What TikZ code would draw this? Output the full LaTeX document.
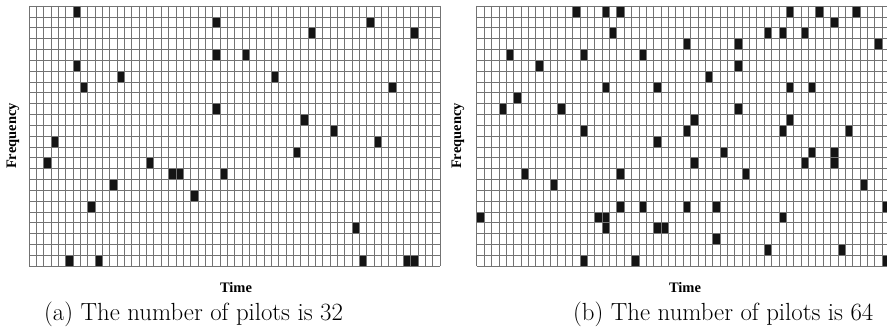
\documentclass[tikz,border=0pt]{standalone}
\usepackage{fontspec}
\newfontfamily\labfont{Liberation Serif}
\begin{document}
\begin{tikzpicture}[x=1pt,y=-1pt,
  gridline/.style={draw=black!55,line width=0.6pt},
  pilot/.style={fill=black!92},
  axislabel/.style={font=\labfont\bfseries\fontsize{14.5}{16}\selectfont,inner sep=0pt},
  captext/.style={font=\fontsize{24.8}{27}\selectfont,inner sep=0pt,anchor=base west}]
\useasboundingbox[fill=white] (0,0) rectangle (887,331);
% ---------- left grid (32 pilots) ----------
\begin{scope}[shift={(29,6)}]
  \foreach \c/\r in {6/0,25/1,46/1,38/2,52/2,25/4,29/4,6/5,12/6,33/6,7/7,49/7,25/9,37/10,41/11,3/12,47/12,36/13,2/14,16/14,19/15,20/15,26/15,11/16,22/17,8/18,44/20,5/23,9/23,45/23,51/23,52/23}
    \fill[pilot] (\c*7.34,\r*10.833) rectangle ++(7.34,10.833);
  \foreach \i in {0,...,56} \draw[gridline] (\i*7.34,0) -- (\i*7.34,260);
  \foreach \j in {0,...,24} \draw[gridline] (0,\j*10.833) -- (411.04,\j*10.833);
\end{scope}
% ---------- right grid (64 pilots) ----------
\begin{scope}[shift={(476.7,6)}]
  \foreach \c/\r in {13/0,17/0,19/0,42/0,46/0,51/0,48/1,18/2,39/2,41/2,44/2,28/3,35/3,54/3,4/4,14/4,22/4,8/5,35/5,31/6,17/7,24/7,42/7,45/7,5/8,3/9,11/9,35/9,29/10,42/10,14/11,28/11,41/11,50/11,24/12,33/13,45/13,48/13,29/14,44/14,48/14,6/15,19/15,36/15,10/16,52/16,19/18,22/18,28/18,32/18,55/18,0/19,16/19,17/19,41/19,17/20,24/20,25/20,32/21,39/22,49/22,14/23,21/23,55/23}
    \fill[pilot] (\c*7.37,\r*10.833) rectangle ++(7.37,10.833);
  \foreach \i in {0,...,56} \draw[gridline] (\i*7.37,0) -- (\i*7.37,260);
  \foreach \j in {0,...,24} \draw[gridline] (0,\j*10.833) -- (412.72,\j*10.833);
\end{scope}
% ---------- labels ----------
\node[axislabel,rotate=90] (freqa) at (13,136) {Frequency};
\node[axislabel,rotate=90] (freqb) at (458,136) {Frequency};
\node[axislabel] (timea) at (236,288) {Time};
\node[axislabel] (timeb) at (685,288) {Time};
\node[captext] (capa) at (44,321) {(a) The number of pilots is 32};
\node[captext] (capb) at (573,321) {(b) The number of pilots is 64};
\end{tikzpicture}
\end{document}
